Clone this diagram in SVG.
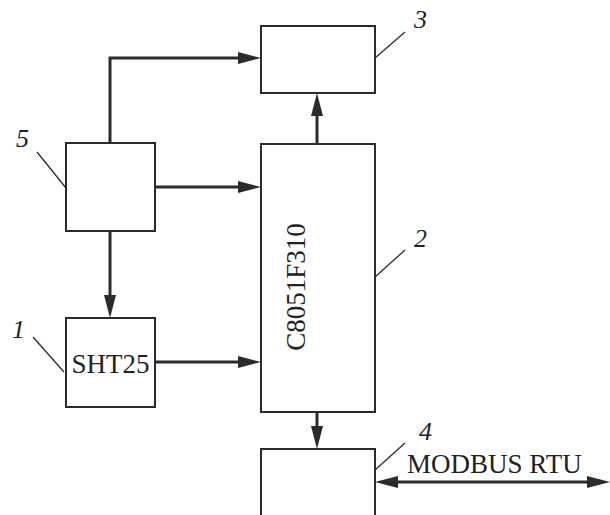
<svg xmlns="http://www.w3.org/2000/svg" width="610" height="515" viewBox="0 0 610 515">
<style>
.box{fill:#fff;stroke:#2b2b2b;stroke-width:2}
.lead{fill:none;stroke:#2b2b2b;stroke-width:1.3}
.conn{fill:none;stroke:#2b2b2b;stroke-width:3}
.t{font-family:"Liberation Serif","Times New Roman",serif;font-size:27px;fill:#222}
.n{font-family:"Liberation Serif","Times New Roman",serif;font-size:26px;font-style:italic;fill:#222}
</style>
<defs>
<marker id="ah" markerUnits="userSpaceOnUse" markerWidth="24" markerHeight="12" refX="2" refY="6" orient="auto-start-reverse" viewBox="0 0 24 12">
<path d="M0,0 L23,6 L0,12 Z" fill="#2b2b2b"/>
</marker>
</defs>
<rect width="610" height="515" fill="#fff"/>
<g id="connectors">
<path class="conn" d="M110,143 V58 H240" marker-end="url(#ah)"/>
<path class="conn" d="M155,187 H240" marker-end="url(#ah)"/>
<path class="conn" d="M110,231 V297" marker-end="url(#ah)"/>
<path class="conn" d="M155,362 H240" marker-end="url(#ah)"/>
<path class="conn" d="M317,144 V114" marker-end="url(#ah)"/>
<path class="conn" d="M317,412 V428" marker-end="url(#ah)"/>
<path class="conn" d="M396,482 H589" marker-start="url(#ah)" marker-end="url(#ah)"/>
</g>
<g id="node3">
<rect class="box" x="261" y="26" width="114" height="67"/>
<line class="lead" x1="375" y1="58" x2="405" y2="32"/>
<text class="n" x="414" y="28">3</text>
</g>
<g id="node2">
<rect class="box" x="261" y="144" width="114" height="268"/>
<text class="t" transform="translate(305,287) rotate(-90)" text-anchor="middle">C8051F310</text>
<line class="lead" x1="375" y1="277" x2="405" y2="250"/>
<text class="n" x="414" y="247">2</text>
</g>
<g id="node5">
<rect class="box" x="66" y="143" width="89" height="88"/>
<line class="lead" x1="37" y1="152" x2="66" y2="188"/>
<text class="n" x="16" y="147">5</text>
</g>
<g id="node1">
<rect class="box" x="66" y="318" width="89" height="89"/>
<text class="t" x="110.5" y="373" text-anchor="middle">SHT25</text>
<line class="lead" x1="33" y1="337" x2="64" y2="372"/>
<text class="n" x="12" y="338">1</text>
</g>
<g id="node4">
<rect class="box" x="261" y="449" width="114" height="90"/>
<line class="lead" x1="375" y1="470" x2="405" y2="443"/>
<text class="n" x="419" y="440">4</text>
<text class="t" x="407" y="473">MODBUS RTU</text>
</g>
</svg>
